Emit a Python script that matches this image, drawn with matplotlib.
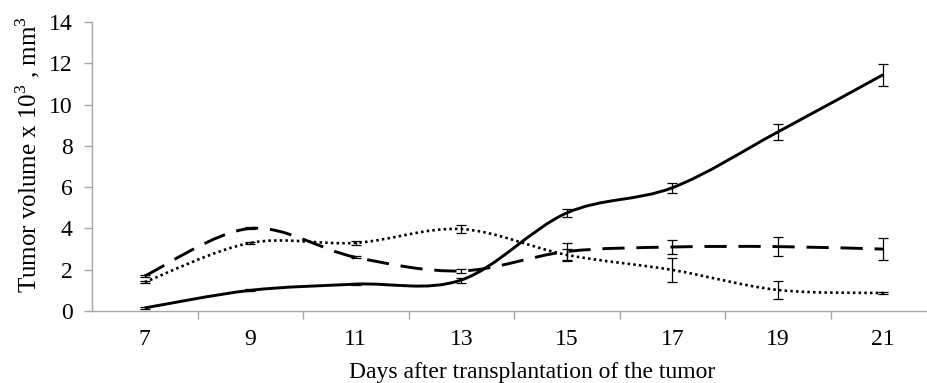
import numpy as np
import matplotlib
matplotlib.use("Agg")
import matplotlib.pyplot as plt
from matplotlib.path import Path
from matplotlib.patches import PathPatch

plt.rcParams['font.family'] = ['Liberation Serif', 'DejaVu Serif']
plt.rcParams['mathtext.fontset'] = 'custom'
plt.rcParams['mathtext.rm'] = 'Liberation Serif'
plt.rcParams['lines.scale_dashes'] = False  # dash lengths below are in points

days = ['7', '9', '11', '13', '15', '17', '19', '21']

# control (solid)
solid_vals = [0.15, 1.0, 1.3, 1.5, 4.75, 5.97, 8.67, 11.45]
solid_err = [0.03, 0.05, 0.05, 0.12, 0.2, 0.24, 0.4, 0.53]

# dashed series
dash_vals = [1.7, 4.0, 2.6, 1.94, 2.88, 3.1, 3.12, 3.0]
dash_err = [0.03, 0.05, 0.05, 0.08, 0.4, 0.32, 0.45, 0.55]

# dotted series
dot_vals = [1.4, 3.3, 3.3, 3.97, 2.72, 1.99, 1.02, 0.87]
dot_err = [0.03, 0.05, 0.08, 0.2, 0.3, 0.6, 0.45, 0.05]

GRAY = '#a6a6a6'


def smooth_path(xs, ys):
    # Excel-like smoothed line: cubic bezier through each point
    pts = np.column_stack([xs, ys]).astype(float)
    n = len(pts)
    verts = [pts[0]]
    codes = [Path.MOVETO]
    for i in range(n - 1):
        p0 = pts[max(i - 1, 0)]
        p1 = pts[i]
        p2 = pts[i + 1]
        p3 = pts[min(i + 2, n - 1)]
        c1 = p1 + (p2 - p0) / 6.0
        c2 = p2 - (p3 - p1) / 6.0
        verts += [c1, c2, p2]
        codes += [Path.CURVE4] * 3
    return Path(verts, codes)


fig = plt.figure(figsize=(9.27, 3.83), dpi=100)
ax = fig.add_axes([92 / 927, 72 / 383, 835 / 927, 289 / 383])

x = np.arange(len(days))
series = [
    (solid_vals, solid_err, '-', 2.1),
    (dash_vals, dash_err, (0, (16, 8.5)), 2.1),
    (dot_vals, dot_err, (0, (1.8, 2.3)), 1.9),
]
for vals, err, ls, lw in series:
    patch = PathPatch(smooth_path(x, vals), facecolor='none', edgecolor='black',
                      lw=lw, linestyle=ls, capstyle='butt')
    ax.add_patch(patch)
    ax.errorbar(x, vals, yerr=err, fmt='none', ecolor='black', elinewidth=0.9,
                capsize=3.5, capthick=0.9)

ax.set_xlim(-0.5, -0.5 + 835 / 105.5)
ax.set_ylim(0, 14)
ax.set_yticks(np.arange(0, 15, 2))
ax.set_xticks(np.arange(0.5, 7.0, 1.0))
ax.set_xticklabels([])
ax.set_xticks(x, minor=True)
ax.set_xticklabels(days, minor=True)
ax.tick_params(axis='x', which='major', length=5.5, color=GRAY, width=1)
ax.tick_params(axis='x', which='minor', length=0, pad=13, labelsize=17)
ax.tick_params(axis='y', length=6, color=GRAY, width=1, labelsize=17, pad=8)

for s in ['top', 'right']:
    ax.spines[s].set_visible(False)
for s in ['left', 'bottom']:
    ax.spines[s].set_color(GRAY)
    ax.spines[s].set_linewidth(1)

ax.set_xlabel('Days after transplantation of the tumor', fontsize=17)
ax.xaxis.set_label_coords((532 - 92) / 835, -(378 - 311) / 289)
ax.xaxis.label.set_va('baseline')
ax.set_ylabel(r'Tumor volume x 10$^{\mathrm{3}}$ , mm$^{\mathrm{3}}$', fontsize=18)
ax.yaxis.set_label_coords(-(92 - 28) / 835, (311 - 155) / 289)
ax.yaxis.label.set_va('center')

fig.savefig('out.png', dpi=100)
